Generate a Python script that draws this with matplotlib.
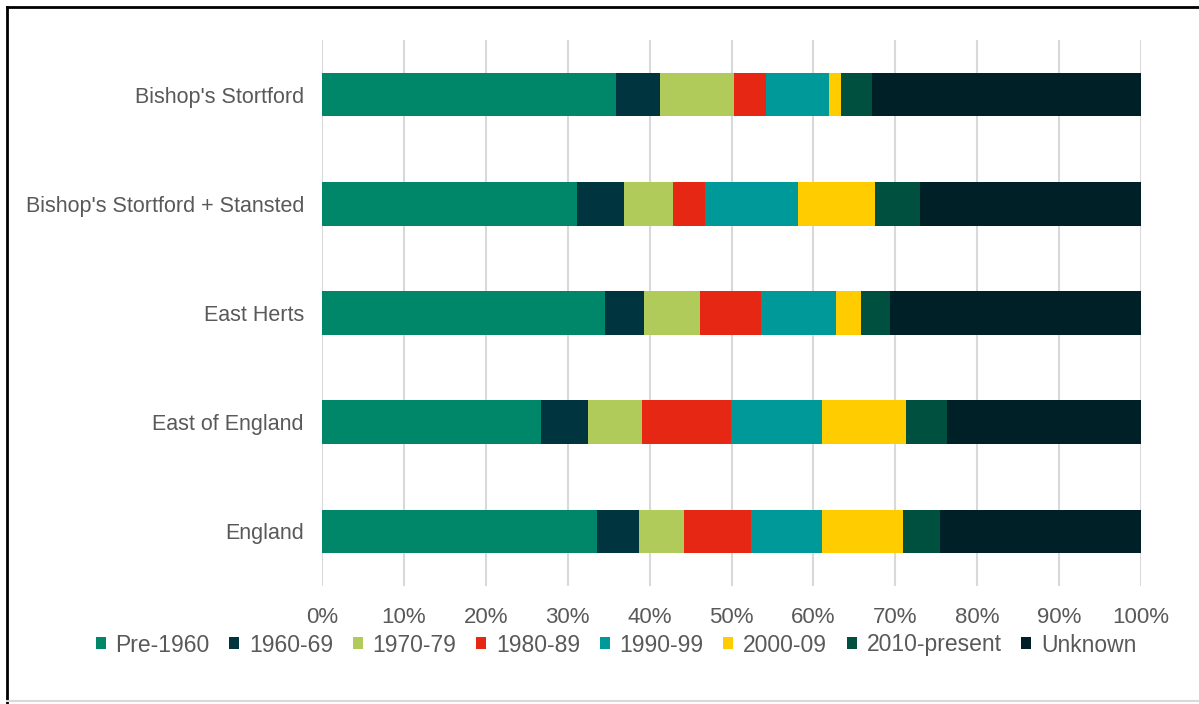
import numpy as np
import matplotlib
matplotlib.use("Agg")
from matplotlib import pyplot as plt
from matplotlib.lines import Line2D

# share of dwellings by build period (%)
areas = ["Bishop's Stortford", "Bishop's Stortford + Stansted", "East Herts",
         "East of England", "England"]
periods = ["Pre-1960", "1960-69", "1970-79", "1980-89", "1990-99",
           "2000-09", "2010-present", "Unknown"]

pre_1960 = [35.9, 31.1, 34.5, 26.7, 33.6]
y1960_69 = [5.4, 5.8, 4.8, 5.8, 5.1]
y1970_79 = [9.0, 5.9, 6.8, 6.6, 5.5]
y1980_89 = [3.9, 4.0, 7.5, 10.8, 8.2]
y1990_99 = [7.7, 11.3, 9.1, 11.1, 8.7]
y2000_09 = [1.5, 9.4, 3.1, 10.3, 9.9]
y2010_present = [3.8, 5.5, 3.6, 5.0, 4.5]
unknown = [32.8, 27.0, 30.6, 23.7, 24.5]

series = [pre_1960, y1960_69, y1970_79, y1980_89, y1990_99,
          y2000_09, y2010_present, unknown]
colors = ["#00876A", "#00343F", "#B0CB59", "#E52713", "#009999",
          "#FFCC00", "#00503F", "#002027"]

plt.rcParams['font.family'] = ['Liberation Sans', 'DejaVu Sans']
text_col = "#595959"

fig = plt.figure(figsize=(11.99, 7.04), dpi=100)
ax = fig.add_axes([0.2686, 0.1676, 0.683, 0.7756])

ypos = np.arange(len(areas))
left = np.zeros(len(areas))
for name, vals, col in zip(periods, series, colors):
    ax.barh(ypos, vals, left=left, height=0.4, color=col, label=name, zorder=3)
    left += np.array(vals)

ax.set_xlim(0, 100)
ax.set_ylim(len(areas) - 0.5, -0.5)
ax.set_yticks(ypos)
ax.set_yticklabels(areas)
ax.set_xticks(np.arange(0, 101, 10))
ax.set_xticklabels([f"{v}%" for v in range(0, 101, 10)])
ax.tick_params(axis='y', length=0, pad=13, labelsize=15.5, labelcolor=text_col)
ax.tick_params(axis='x', length=0, pad=15, labelsize=16, labelcolor=text_col)
ax.grid(axis='x', color="#D9D9D9", linewidth=1.5, zorder=0)
for s in ax.spines.values():
    s.set_visible(False)

leg = fig.legend(loc='center', bbox_to_anchor=(616 / 1199, 1 - 645 / 704),
                 ncol=8, frameon=False, fontsize=16.5,
                 handlelength=0.43, handleheight=0.43,
                 handletextpad=0.43, columnspacing=0.86)
for t in leg.get_texts():
    t.set_color(text_col)

# chart frame
fig.add_artist(Line2D([7 / 1199, 7 / 1199], [0, 1 - 7 / 704],
                      transform=fig.transFigure, color="black", linewidth=2))
fig.add_artist(Line2D([7 / 1199, 1], [1 - 7 / 704, 1 - 7 / 704],
                      transform=fig.transFigure, color="black", linewidth=2))
fig.add_artist(Line2D([7 / 1199, 1], [3 / 704, 3 / 704],
                      transform=fig.transFigure, color="#D9D9D9", linewidth=1.5))

fig.savefig("out.png", dpi=100)
